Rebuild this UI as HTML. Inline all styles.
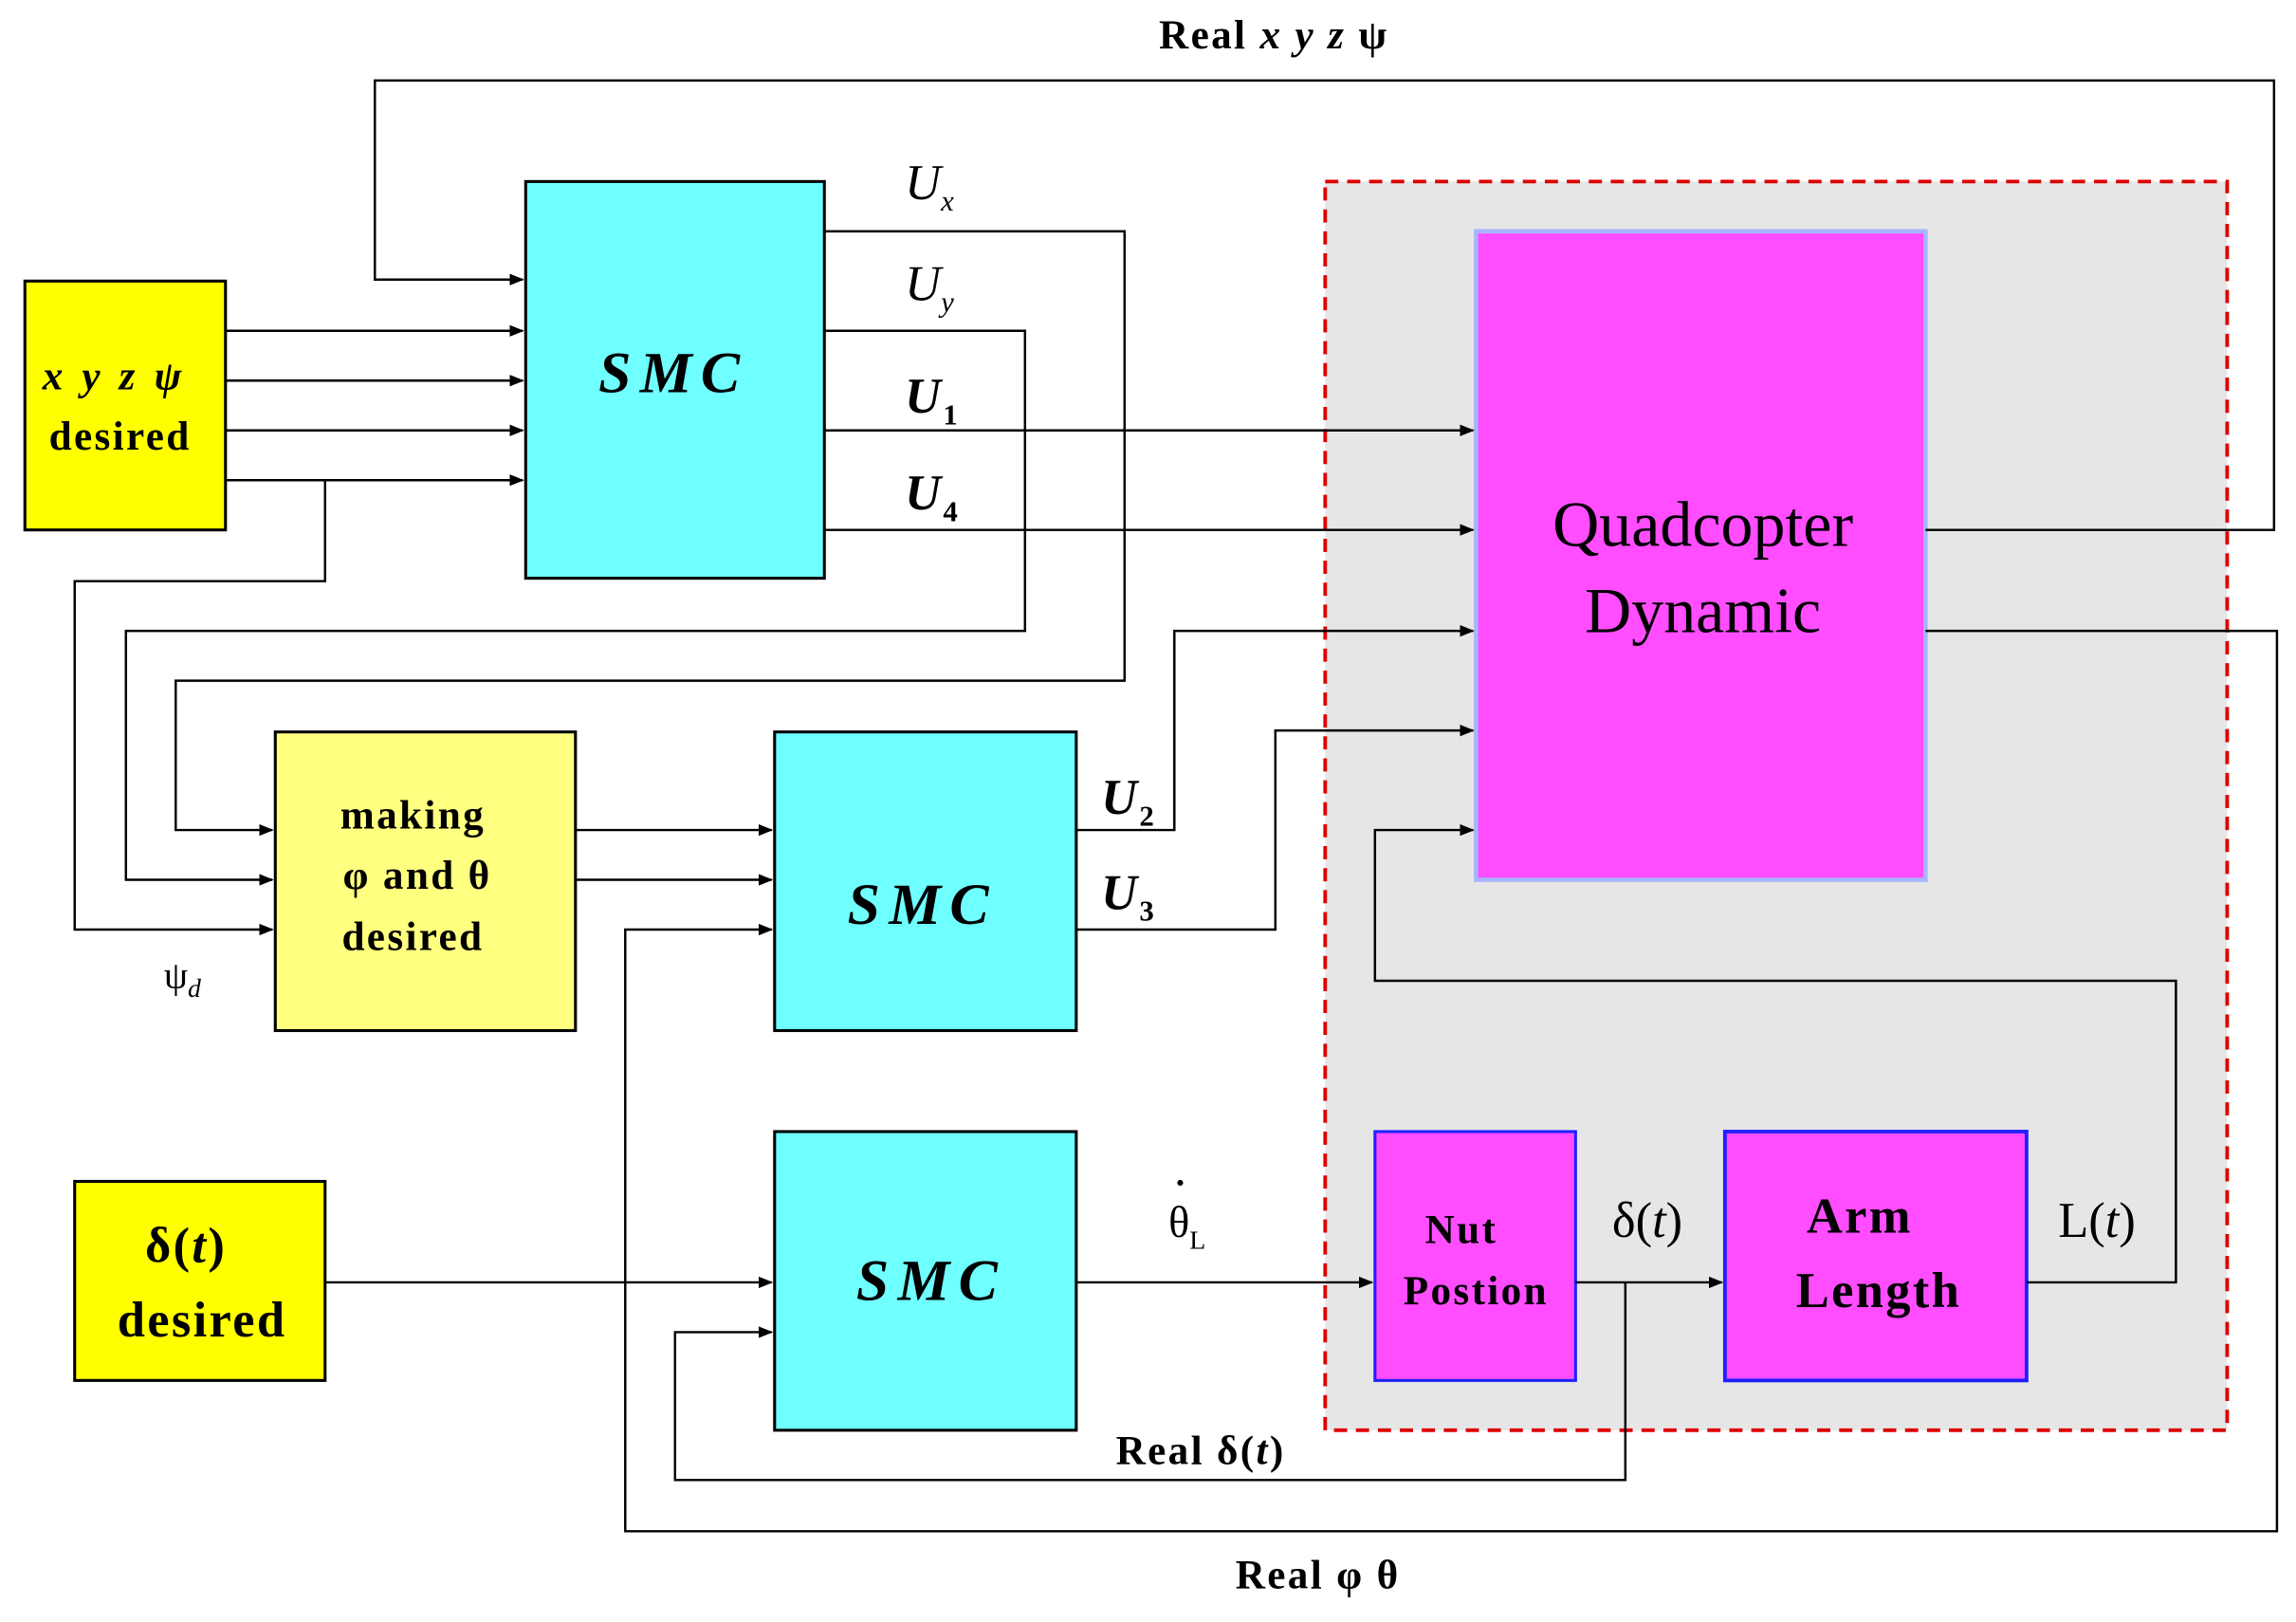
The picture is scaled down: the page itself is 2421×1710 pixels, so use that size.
<!DOCTYPE html>
<html><head><meta charset="utf-8"><style>html,body{margin:0;padding:0;background:#fff}svg{display:block}</style></head>
<body>
<svg width="2421" height="1710" viewBox="0 0 1568 1108" preserveAspectRatio="none" xmlns="http://www.w3.org/2000/svg" font-family="Liberation Serif, serif">
<defs><marker id="a" markerWidth="10" markerHeight="8" refX="9" refY="4" orient="auto" markerUnits="userSpaceOnUse"><path d="M0,0 L10,4 L0,8 z" fill="#000"/></marker></defs>
<rect x="905" y="124" width="616" height="853" fill="#e6e6e6" stroke="#d00" stroke-width="2.5" stroke-dasharray="9,6"/>
<g stroke="#000" stroke-width="2" fill="none">
<rect x="17" y="192" width="137" height="170" fill="#ffff00"/>
<rect x="359" y="124" width="204" height="271" fill="#6fffff"/>
<rect x="188" y="500" width="205" height="204" fill="#ffff80"/>
<rect x="529" y="500" width="206" height="204" fill="#6fffff"/>
<rect x="529" y="773" width="206" height="204" fill="#6fffff"/>
<rect x="51" y="807" width="171" height="136" fill="#ffff00"/>
</g>
<rect x="1008" y="158" width="307" height="443" fill="#ff4dff" stroke="#a8b4ff" stroke-width="3"/>
<rect x="939" y="773" width="137" height="170" fill="#ff4dff" stroke="#2020ff" stroke-width="2"/>
<rect x="1178" y="773" width="206" height="170" fill="#ff4dff" stroke="#2020ff" stroke-width="2.5"/>
<g stroke="#000" stroke-width="1.6" fill="none">
<polyline points="1315,362 1553,362 1553,55 256,55 256,191 357,191" marker-end="url(#a)"/>
<line x1="154" y1="226" x2="357" y2="226" marker-end="url(#a)"/>
<line x1="154" y1="260" x2="357" y2="260" marker-end="url(#a)"/>
<line x1="154" y1="294" x2="357" y2="294" marker-end="url(#a)"/>
<line x1="154" y1="328" x2="357" y2="328" marker-end="url(#a)"/>
<polyline points="222,328 222,397 51,397 51,635 186,635" marker-end="url(#a)"/>
<polyline points="563,158 768,158 768,465 120,465 120,567 186,567" marker-end="url(#a)"/>
<polyline points="563,226 700,226 700,431 86,431 86,601 186,601" marker-end="url(#a)"/>
<line x1="563" y1="294" x2="1006" y2="294" marker-end="url(#a)"/>
<line x1="563" y1="362" x2="1006" y2="362" marker-end="url(#a)"/>
<polyline points="1315,431 1555,431 1555,1046 427,1046 427,635 527,635" marker-end="url(#a)"/>
<line x1="393" y1="567" x2="527" y2="567" marker-end="url(#a)"/>
<line x1="393" y1="601" x2="527" y2="601" marker-end="url(#a)"/>
<polyline points="735,567 802,567 802,431 1006,431" marker-end="url(#a)"/>
<polyline points="735,635 871,635 871,499 1006,499" marker-end="url(#a)"/>
<polyline points="1384,876 1486,876 1486,670 939,670 939,567 1006,567" marker-end="url(#a)"/>
<line x1="1076" y1="876" x2="1176" y2="876" marker-end="url(#a)"/>
<polyline points="1110,876 1110,1011 461,1011 461,910 527,910" marker-end="url(#a)"/>
<line x1="735" y1="876" x2="937" y2="876" marker-end="url(#a)"/>
<line x1="222" y1="876" x2="527" y2="876" marker-end="url(#a)"/>
</g>
<g fill="#000" font-weight="bold" letter-spacing="1.5">
<text x="870" y="33" font-size="28" text-anchor="middle">Real <tspan font-style="italic">x y z</tspan> ψ</text>
<text x="78" y="266" font-size="28" text-anchor="middle" font-style="italic" letter-spacing="3">x y z ψ</text>
<text x="82" y="307" font-size="28" text-anchor="middle">desired</text>
<text x="460" y="268" font-size="40" text-anchor="middle" font-style="italic" letter-spacing="6">SMC</text>
<text x="630" y="631" font-size="40" text-anchor="middle" font-style="italic" letter-spacing="6">SMC</text>
<text x="636" y="888" font-size="40" text-anchor="middle" font-style="italic" letter-spacing="6">SMC</text>
<text x="282" y="566" font-size="28" text-anchor="middle">making</text>
<text x="285" y="607" font-size="28" text-anchor="middle">φ and θ</text>
<text x="282" y="649" font-size="28" text-anchor="middle">desired</text>
<text x="127" y="862" font-size="34" text-anchor="middle">δ(<tspan font-style="italic">t</tspan>)</text>
<text x="138" y="913" font-size="34" text-anchor="middle">desired</text>
<text x="998" y="849" font-size="28" text-anchor="middle">Nut</text>
<text x="1008" y="891" font-size="28" text-anchor="middle">Postion</text>
<text x="1270" y="842" font-size="34" text-anchor="middle">Arm</text>
<text x="1283" y="893" font-size="34" text-anchor="middle">Length</text>
<text x="820" y="1000" font-size="28" text-anchor="middle">Real δ(<tspan font-style="italic">t</tspan>)</text>
<text x="900" y="1085" font-size="28" text-anchor="middle">Real φ θ</text>
<text x="618" y="282" font-size="34" font-style="italic">U<tspan font-size="20" dy="8" font-style="normal">1</tspan></text>
<text x="618" y="348" font-size="34" font-style="italic">U<tspan font-size="20" dy="8" font-style="normal">4</tspan></text>
<text x="752" y="556" font-size="34" font-style="italic">U<tspan font-size="20" dy="8" font-style="normal">2</tspan></text>
<text x="752" y="621" font-size="34" font-style="italic">U<tspan font-size="20" dy="8" font-style="normal">3</tspan></text>
</g>
<g fill="#000">
<text x="618" y="136" font-size="34" font-style="italic">U<tspan font-size="20" dy="8">x</tspan></text>
<text x="618" y="205" font-size="34" font-style="italic">U<tspan font-size="20" dy="8">y</tspan></text>
<text x="112" y="675" font-size="26">ψ<tspan font-size="18" dy="6" font-style="italic">d</tspan></text>
<text x="798" y="845" font-size="30">θ<tspan font-size="18" dy="8">L</tspan></text>
<circle cx="806" cy="808" r="2"/>
<text x="1125" y="845" font-size="34" text-anchor="middle">δ(<tspan font-style="italic">t</tspan>)</text>
<text x="1432" y="845" font-size="34" text-anchor="middle">L(<tspan font-style="italic">t</tspan>)</text>
<text x="1163" y="373" font-size="44" text-anchor="middle">Quadcopter</text>
<text x="1163" y="432" font-size="44" text-anchor="middle">Dynamic</text>
</g>
</svg>
</body></html>
